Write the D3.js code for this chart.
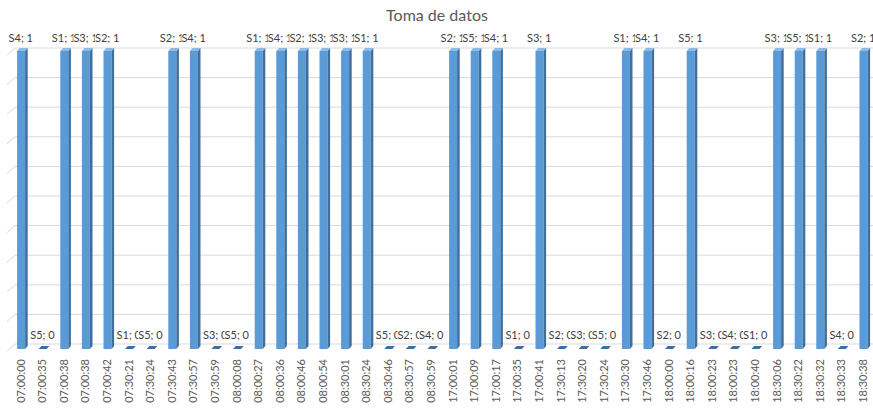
<!DOCTYPE html>
<html>
<head>
<meta charset="utf-8">
<script src="https://cdn.jsdelivr.net/npm/d3@7"></script>
<style>
  body { margin: 0; background: #fff; }
  svg { display: block; font-family: Lato, "Open Sans", sans-serif; }
</style>
</head>
<body>
<div id="chart"></div>
<script>
// Toma de datos - one reading per row
const times = ["07:00:00","07:00:35","07:00:38","07:00:38","07:00:42","07:30:21","07:30:24","07:30:43","07:30:57","07:30:59",
  "08:00:08","08:00:27","08:00:36","08:00:46","08:00:54","08:30:01","08:30:24","08:30:46","08:30:57","08:30:59",
  "17:00:01","17:00:09","17:00:17","17:00:35","17:00:41","17:30:13","17:30:20","17:30:24","17:30:30","17:30:46",
  "18:00:00","18:00:16","18:00:23","18:00:23","18:00:40","18:30:06","18:30:22","18:30:32","18:30:33","18:30:38"];
const sensors = ["S4","S5","S1","S3","S2","S1","S5","S2","S4","S3",
  "S5","S1","S4","S2","S3","S3","S1","S5","S2","S4",
  "S2","S5","S4","S1","S3","S2","S3","S5","S1","S4",
  "S2","S5","S3","S4","S1","S3","S5","S1","S4","S2"];
const values = [1,0,1,1,1,0,0,1,1,0,
  0,1,1,1,1,1,1,0,0,0,
  1,1,1,0,1,0,0,0,1,1,
  0,1,0,0,0,1,1,1,0,1];
const gridTicks = [0,0.1,0.2,0.3,0.4,0.5,0.6,0.7,0.8,0.9,1];

const width = 873, height = 409;
const svg = d3.select("#chart").append("svg")
  .attr("width", width)
  .attr("height", height);

const idx = d3.range(times.length);
const x = d3.scaleBand().domain(idx).range([10, 874]).padding(0);
const yGrid = d3.scaleLinear().domain([0, 1]).range([344, 48]);
const yBar = d3.scaleLinear().domain([0, 1]).range([349, 51]);
const dx = 2.6, dy = -3; // bar depth

// title
svg.append("text")
  .attr("x", 437).attr("y", 21)
  .attr("text-anchor", "middle")
  .attr("fill", "#595959")
  .style("font-size", "16px")
  .text("Toma de datos");

// back wall gridlines + left wall slant
const grid = svg.append("g");
grid.selectAll("line.h")
  .data(gridTicks)
  .enter().append("line")
  .attr("class", "h")
  .attr("x1", 15).attr("x2", width)
  .attr("y1", d => yGrid(d)).attr("y2", d => yGrid(d))
  .attr("stroke", "#d9d9d9").attr("stroke-width", 1);
grid.selectAll("line.s")
  .data(gridTicks)
  .enter().append("line")
  .attr("class", "s")
  .attr("x1", 7).attr("x2", 15)
  .attr("y1", d => yGrid(d) + 7).attr("y2", d => yGrid(d))
  .attr("stroke", "#d9d9d9").attr("stroke-width", 1);

// bars
const bars = svg.append("g").selectAll("g")
  .data(idx)
  .enter().append("g");

function cx(i) { return x(i) + x.bandwidth() / 2; }
const fl = -3.7, fr = 4.3;

bars.filter(i => values[i] > 0).append("rect")
  .attr("x", i => cx(i) + fl)
  .attr("y", i => yBar(values[i]))
  .attr("width", fr - fl)
  .attr("height", i => yBar(0) - yBar(values[i]))
  .attr("fill", "#5b9bd5");
bars.filter(i => values[i] > 0).append("path")
  .attr("d", i => {
    const r = cx(i) + fr, t = yBar(values[i]), b = yBar(0);
    return `M${r},${t}L${r + dx},${t + dy}L${r + dx},${b + dy}L${r},${b}Z`;
  })
  .attr("fill", "#3f6f9f");
bars.append("path")
  .attr("d", i => {
    const l = cx(i) + fl, r = cx(i) + fr, t = yBar(values[i]);
    return `M${l},${t}L${r},${t}L${r + dx},${t + dy}L${l + dx},${t + dy}Z`;
  })
  .attr("fill", i => values[i] > 0 ? "#8dbbe6" : "#3f6f9f");

// data labels (white box, later ones cover earlier ones)
const labels = svg.append("g");
idx.forEach(i => {
  const ty = values[i] > 0 ? 42 : 339;
  const g = labels.append("g");
  const t = g.append("text")
    .attr("x", cx(i)).attr("y", ty)
    .attr("text-anchor", "middle")
    .attr("fill", "#404040")
    .style("font-size", "11px")
    .text(`${sensors[i]}; ${values[i]}`);
  const bb = t.node().getBBox();
  g.insert("rect", "text")
    .attr("x", bb.x).attr("y", bb.y)
    .attr("width", bb.width).attr("height", bb.height)
    .attr("fill", "#fff");
});

// x axis
const axis = svg.append("g")
  .attr("transform", "translate(0,359)")
  .call(d3.axisBottom(x).tickSize(0).tickFormat(i => times[i]));
axis.select(".domain").remove();
axis.selectAll("text")
  .attr("transform", "rotate(-90)")
  .attr("x", 0).attr("y", 0)
  .attr("dy", "0.35em")
  .attr("text-anchor", "end")
  .attr("fill", "#595959")
  .style("font-family", "Lato, sans-serif")
  .style("font-size", "11px");
</script>
</body>
</html>
